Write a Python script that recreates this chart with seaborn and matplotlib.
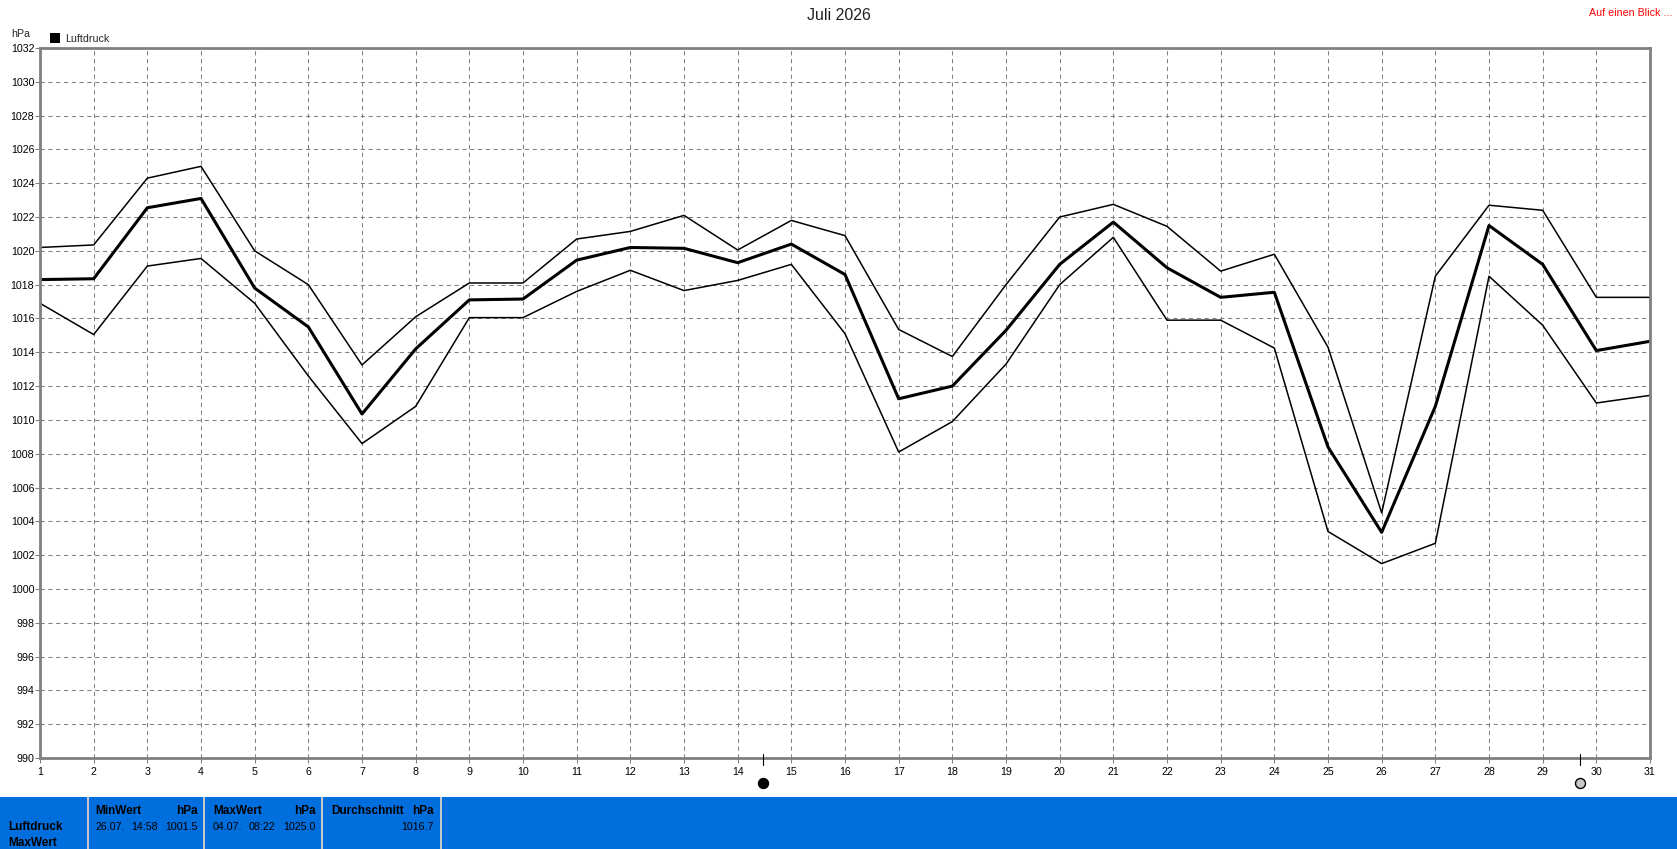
import matplotlib
matplotlib.use("Agg")
import matplotlib.pyplot as plt
from matplotlib.patches import Rectangle
from matplotlib.transforms import blended_transform_factory
import numpy as np
import pandas as pd
import seaborn as sns

days = list(range(1, 32))
mean_p = [1018.3, 1018.35, 1022.55, 1023.1, 1017.8, 1015.5, 1010.35, 1014.2, 1017.1, 1017.15, 1019.45,
          1020.2, 1020.15, 1019.3, 1020.4, 1018.6, 1011.25, 1012.0, 1015.3, 1019.2, 1021.7, 1019.0,
          1017.25, 1017.55, 1008.4, 1003.35, 1010.8, 1021.5, 1019.2, 1014.1, 1014.65]
max_p = [1020.2, 1020.35, 1024.3, 1025.0, 1020.0, 1018.0, 1013.25, 1016.1, 1018.1, 1018.1, 1020.7,
         1021.15, 1022.1, 1020.05, 1021.8, 1020.9, 1015.35, 1013.75, 1018.0, 1022.0, 1022.75, 1021.45,
         1018.8, 1019.8, 1014.3, 1004.5, 1018.5, 1022.7, 1022.4, 1017.25, 1017.25]
min_p = [1016.9, 1015.05, 1019.1, 1019.55, 1016.9, 1012.6, 1008.6, 1010.8, 1016.05, 1016.05, 1017.6,
         1018.85, 1017.65, 1018.25, 1019.2, 1015.1, 1008.1, 1009.9, 1013.3, 1018.0, 1020.8, 1015.9,
         1015.9, 1014.25, 1003.4, 1001.5, 1002.7, 1018.5, 1015.6, 1011.0, 1011.45]
new_moon_day = 14.48
full_moon_day = 29.7
y_ticks = list(range(990, 1033, 2))

W, H = 1677, 849
sns.set_theme(style="white")
plt.rcParams["font.family"] = ["Liberation Sans", "DejaVu Sans"]
GREY = "#808080"
BLUE = "#006EDC"
FS = 7.7
FSB = 8.5

fig = plt.figure(figsize=(W / 100, H / 100), dpi=100, facecolor="white")
L, R, T, B = 40, 1650, 48, 758
ax = fig.add_axes([L / W, 1 - B / H, (R - L) / W, (B - T) / H])

df = pd.DataFrame({"day": days, "mean": mean_p, "max": max_p, "min": min_p})
sns.lineplot(data=df, x="day", y="max", color="black", lw=1.1, ax=ax)
sns.lineplot(data=df, x="day", y="min", color="black", lw=1.1, ax=ax)
sns.lineplot(data=df, x="day", y="mean", color="black", lw=2.2, ax=ax)

ax.set_xlim(1, 31)
ax.set_ylim(990, 1032)
ax.set_xticks(days)
ax.set_yticks(y_ticks)
ax.set_xlabel("")
ax.set_ylabel("")
ax.grid(True, color=GREY, lw=0.75, ls=(0, (4, 3.5)))
ax.set_axisbelow(True)
ax.tick_params(axis="both", length=3.6, width=0.75, color=GREY, labelsize=FS, labelcolor="black",
               left=True, bottom=True)
ax.tick_params(axis="y", pad=0.5)
ax.tick_params(axis="x", pad=3)
for s in ax.spines.values():
    s.set_color(GREY)
    s.set_linewidth(2)


def px(x, y):
    return x / W, 1 - y / H


# moon phase markers below the axis
tr = blended_transform_factory(ax.transData, fig.transFigure)
for day, fc in [(new_moon_day, "black"), (full_moon_day, "#c8c8c8")]:
    ax.plot([day, day], [px(0, 754)[1], px(0, 765)[1]], color="black", lw=0.8, transform=tr, clip_on=False, zorder=6)
    ax.plot([day], [px(0, 783)[1]], marker="o", ms=7.2, mfc=fc, mec="black", mew=1, transform=tr,
            clip_on=False, zorder=6)

fig.text(*px(839, 16), "Juli 2026", ha="center", va="center", fontsize=11.5, color="#222222")
fig.text(*px(1672, 13), "Auf einen Blick ...", ha="right", va="center", fontsize=FS, color="red")
fig.text(*px(11, 34), "hPa", ha="left", va="center", fontsize=FS)
fig.text(*px(65, 39), "Luftdruck", ha="left", va="center", fontsize=FS)
fig.add_artist(Rectangle(px(50, 43), 10 / W, 10 / H, transform=fig.transFigure, fc="black", ec="none"))

# bottom statistics panel
fig.add_artist(Rectangle(px(0, 849), 1, 52 / H, transform=fig.transFigure, fc=BLUE, ec="none"))
for x in [88, 204, 322, 441]:
    fig.add_artist(Rectangle(px(x - 1, 849), 2 / W, 52 / H, transform=fig.transFigure, fc="#c8c8c8", ec="none"))

bold = dict(fontsize=FSB, fontweight="bold", color="black", va="center")
reg = dict(fontsize=FS, color="black", va="center")
fig.text(*px(8, 827.5), "Luftdruck", ha="left", **bold)
fig.text(*px(8, 843.5), "MaxWert", ha="left", **bold)
fig.text(*px(95, 811.5), "MinWert", ha="left", **bold)
fig.text(*px(198, 811.5), "hPa", ha="right", **bold)
fig.text(*px(95, 827.5), "26.07.", ha="left", **reg)
fig.text(*px(131, 827.5), "14:58", ha="left", **reg)
fig.text(*px(198, 827.5), "1001.5", ha="right", **reg)
fig.text(*px(213, 811.5), "MaxWert", ha="left", **bold)
fig.text(*px(316, 811.5), "hPa", ha="right", **bold)
fig.text(*px(213, 827.5), "04.07.", ha="left", **reg)
fig.text(*px(249, 827.5), "08:22", ha="left", **reg)
fig.text(*px(316, 827.5), "1025.0", ha="right", **reg)
fig.text(*px(331, 811.5), "Durchschnitt", ha="left", **bold)
fig.text(*px(434, 811.5), "hPa", ha="right", **bold)
fig.text(*px(434, 827.5), "1016.7", ha="right", **reg)

fig.savefig("out.png", dpi=100, facecolor="white")
